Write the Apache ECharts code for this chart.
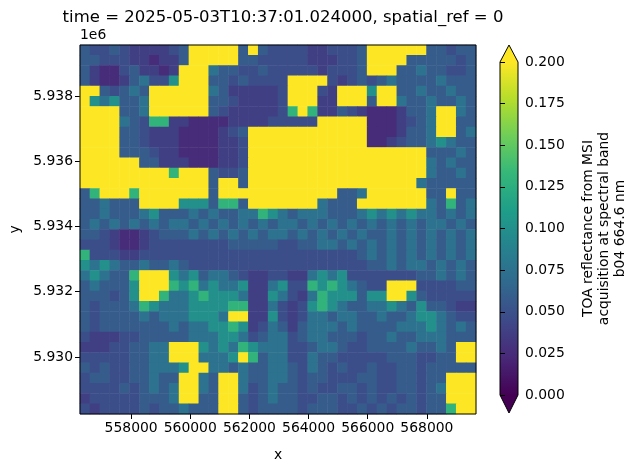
<!DOCTYPE html>
<html><head><meta charset="utf-8">
<script src="https://cdn.jsdelivr.net/npm/echarts@6/dist/echarts.min.js"></script>
<style>html,body{margin:0;padding:0;background:#fff}#c{width:630px;height:468px}</style>
</head><body><div id="c"></div>
<script>
// Reflectance raster, coarse grid (40 cols x 36 rows, top row first); each char is a level index
const rows = [
"4334322223499999494333322333499999944344",
"4433322122499999443333322233499994444434",
"4211342212999544334333332333499944544334",
"4211245336999443433339999323434544445444",
"9943454999999542222239993299969944544544",
"9656445999999443222239992299949954454454",
"9999445999999432222237972243211124459954",
"9999543772211112222333339999911123459944",
"9999443222111123499999999999911124459945",
"9999443222111122399999999999911234456544",
"9999444322111122399999999999999999944454",
"9999994422211122399999999999999999954544",
"9999999997999433499999999999999999954454",
"9999999999999499499999999999999999544444",
"4799979999999499999999999944599999944944",
"4454449999" + "6664774999" + "9999544499" + "9999954745",
"4454445644454544557654555444565656554545",
"4545454545545454545455454545454545455454",
"4432112344454545454554545454544545454545",
"3332112333333334444433445545454545454545",
"7333223333333333333333333333454545454545",
"6565445445433333333333333333344545545454",
"5654479996564554322332256563333333445454",
"4544469997675655622563376765433999333344",
"4443469975567666522653257666466996433333",
"4344457655566667722532367654455654644322",
"4344445455566659922632355455445445665433",
"4344444445455667623542455545444455565454",
"3222334444455566534553455444344544555444",
"2223344559996565765553345543344445445499",
"3333344559995556974553354433333444334499",
"4343344555699554544554354343343344344444",
"3443344544995499544554344333443344344999",
"3333434545995499534544343344343344345999",
"2333334445994499434544334434343434344999",
"3233334344544499434444344433434344344799"
];
// value of each level index
const levels = [0.01, 0.025, 0.038, 0.048, 0.058, 0.075, 0.1, 0.13, 0.165, 0.21];
const xTicks = [558000, 560000, 562000, 564000, 566000, 568000];
const yTicks = [5930000, 5932000, 5934000, 5936000, 5938000];
const cbTicks = [0, 0.025, 0.05, 0.075, 0.1, 0.125, 0.15, 0.175, 0.2];
const xExtent = [556271, 569661];
const yExtent = [5928252, 5939564];
const viridis = ['#440154','#482878','#3e4989','#31688e','#26828e','#1f9e89','#35b779','#6ece58','#b5de2b','#fde725'];

const nCols = 40, nRows = rows.length;
const data = [];
rows.forEach((r, j) => { for (let i = 0; i < nCols; i++) data.push([i, j, levels[+r[i]]]); });
const cats = n => Array.from({length: n}, (_, i) => i);

const G = {left: 80, top: 45, width: 396, height: 369};
const CB = {left: 500, top: 62, width: 18, height: 333};
const font = 'DejaVu Sans';
const lbl = {color: '#000', fontFamily: font, fontSize: 13.9};

const chart = echarts.init(document.getElementById('c'), null, {renderer: 'canvas'});
chart.setOption({
  animation: false,
  title: {text: 'time = 2025-05-03T10:37:01.024000, spatial_ref = 0', left: 278, top: 4, textAlign: 'center',
    textStyle: {fontFamily: font, fontSize: 16.5, fontWeight: 'normal', color: '#000'}},
  grid: [
    Object.assign({}, G),
    Object.assign({}, G),
    Object.assign({}, CB)
  ],
  xAxis: [
    {type: 'category', gridIndex: 0, data: cats(nCols), show: false},
    {type: 'value', gridIndex: 1, min: xExtent[0], max: xExtent[1], splitLine: {show: false},
      axisLine: {show: false}, axisTick: {show: true, customValues: xTicks, length: 5, lineStyle: {color: '#000'}},
      axisLabel: Object.assign({customValues: xTicks, margin: 7, formatter: v => String(v)}, lbl),
      name: 'x', nameLocation: 'middle', nameGap: 34, nameTextStyle: lbl},
    {type: 'value', gridIndex: 2, show: false, min: 0, max: 1}
  ],
  yAxis: [
    {type: 'category', gridIndex: 0, data: cats(nRows), inverse: true, show: false},
    {type: 'value', gridIndex: 1, min: yExtent[0], max: yExtent[1], splitLine: {show: false},
      axisLine: {show: false}, axisTick: {show: true, customValues: yTicks, length: 5, lineStyle: {color: '#000'}},
      axisLabel: Object.assign({customValues: yTicks, margin: 7, formatter: v => (v / 1e6).toFixed(3)}, lbl),
      name: 'y', nameLocation: 'middle', nameGap: 58, nameRotate: 90, nameTextStyle: lbl},
    {type: 'value', gridIndex: 2, position: 'right', min: 0, max: 0.2, splitLine: {show: false},
      axisLine: {show: false}, axisTick: {show: true, customValues: cbTicks, length: 5, lineStyle: {color: '#000'}},
      axisLabel: Object.assign({customValues: cbTicks, margin: 7, formatter: v => v.toFixed(3)}, lbl),
      name: 'TOA reflectance from MSI\nacquisition at spectral band\nb04 664.6 nm', nameLocation: 'middle',
      nameGap: 62, nameRotate: 90, nameTextStyle: Object.assign({lineHeight: 16}, lbl)}
  ],
  visualMap: {show: false, min: 0, max: 0.2, seriesIndex: 0, dimension: 2, inRange: {color: viridis}, outOfRange: {color: viridis[9]}},
  series: [
    {type: 'heatmap', xAxisIndex: 0, yAxisIndex: 0, data: data, itemStyle: {borderWidth: 0}, progressive: 0},
    {type: 'line', xAxisIndex: 2, yAxisIndex: 2, data: []}
  ],
  graphic: [
    {type: 'rect', shape: {x: G.left, y: G.top, width: G.width, height: G.height}, style: {fill: 'none', stroke: '#000', lineWidth: 1}, z: 100},
    {type: 'text', left: 80, top: 28, style: {text: '1e6', font: '13.9px DejaVu Sans', fill: '#000'}},
    {type: 'rect', shape: {x: CB.left, y: CB.top, width: CB.width, height: CB.height},
      style: {fill: new echarts.graphic.LinearGradient(0, 1, 0, 0, viridis.map((c, i) => ({offset: i / 9, color: c})))}},
    {type: 'polygon', shape: {points: [[CB.left, CB.top], [CB.left + CB.width, CB.top], [CB.left + CB.width / 2, 45]]}, style: {fill: viridis[9]}},
    {type: 'polygon', shape: {points: [[CB.left, CB.top + CB.height], [CB.left + CB.width, CB.top + CB.height], [CB.left + CB.width / 2, 413]]}, style: {fill: viridis[0]}},
    {type: 'polygon', shape: {points: [[CB.left, CB.top], [CB.left + CB.width / 2, 45], [CB.left + CB.width, CB.top],
      [CB.left + CB.width, CB.top + CB.height], [CB.left + CB.width / 2, 413], [CB.left, CB.top + CB.height]]},
      style: {fill: 'none', stroke: '#000', lineWidth: 1}, z: 100}
  ]
});
</script></body></html>
